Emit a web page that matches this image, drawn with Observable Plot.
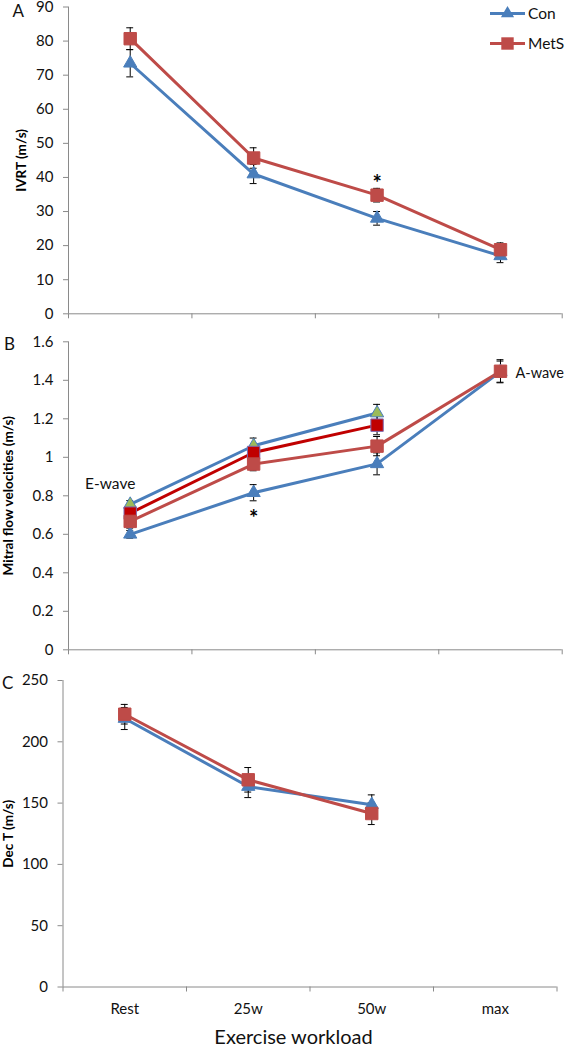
<!DOCTYPE html>
<html><head><meta charset="utf-8">
<script src="https://cdn.jsdelivr.net/npm/d3@7"></script>
<script src="https://cdn.jsdelivr.net/npm/@observablehq/plot@0.6"></script>
<style>
body{margin:0;background:#fff;font-family:Lato,"Open Sans",sans-serif;}
#wrap{position:relative;width:566px;height:1050px;overflow:hidden;background:#fff;}
.panel{position:absolute;left:0;}
.overlay{position:absolute;left:0;top:0;pointer-events:none;}
</style></head><body><div id="wrap"></div>
<script>
// ---- shared ----
const categories = ["Rest", "25w", "50w", "max"];
const seriesNames = ["Con", "MetS"];

// ---- Panel A: IVRT ----
const ivrtCon = [73.5, 41, 28, 17];
const ivrtConErr = [4, 2.8, 2, 2];
const ivrtMetS = [80.7, 45.7, 34.8, 18.8];
const ivrtMetSErr = [3.2, 3, 2, 2];
const ivrtTicks = [0, 10, 20, 30, 40, 50, 60, 70, 80, 90];
const ivrtStars = [{cat: "50w", value: 38}];

// ---- Panel B: Mitral flow velocities ----
const eWaveCon = [0.755, 1.06, 1.23];
const eWaveConErr = [0.02, 0.04, 0.045];
const eWaveMetS = [0.71, 1.025, 1.167];
const eWaveMetSErr = [0.03, 0.03, 0.05];
const aWaveMetS = [0.667, 0.965, 1.058, 1.447];
const aWaveMetSErr = [0.035, 0.035, 0.05, 0.06];
const aWaveCon = [0.60, 0.816, 0.966, 1.445];
const aWaveConErr = [0.02, 0.042, 0.057, 0.055];
const mitralTicks = [0, 0.2, 0.4, 0.6, 0.8, 1, 1.2, 1.4, 1.6];
const mitralStars = [{cat: "25w", value: 0.68}];
const mitralNotes = [
  {cat: "Rest", value: 0.833, label: "E-wave", side: "left"},
  {cat: "max", value: 1.414, label: "A-wave", side: "right"}
];

// ---- Panel C: Dec T ----
const decTCon = [219, 163.5, 148.7];
const decTConErr = [9, 9, 8];
const decTMetS = [222.5, 169, 141.5];
const decTMetSErr = [8, 10, 9];
const decTTicks = [0, 50, 100, 150, 200, 250];

const blue = "#4A7EBB", red = "#BE4B48", darkRed = "#C00000";

function rows(vals, errs) {
  return vals.map((v, i) => ({cat: categories[i], value: v, err: errs[i]}));
}
const xi = d => categories.indexOf(d.cat) + 0.5;

function seriesMarks(s) {
  const d = s.rows;
  return [
    Plot.line(d, {x: xi, y: "value", stroke: s.color, strokeWidth: 3}),
    Plot.ruleX(d, {x: xi, y1: r => r.value - r.err, y2: r => r.value + r.err, stroke: "#000", strokeWidth: 1}),
    Plot.ruleY(d, {x1: r => xi(r) - 0.028, x2: r => xi(r) + 0.028, y: r => r.value + r.err, stroke: "#000", strokeWidth: 1}),
    Plot.ruleY(d, {x1: r => xi(r) - 0.028, x2: r => xi(r) + 0.028, y: r => r.value - r.err, stroke: "#000", strokeWidth: 1})
  ];
}
function seriesDots(s) {
  return Plot.dot(s.rows, {x: xi, y: "value", symbol: s.symbol, r: s.symbol === "square" ? 7 : 4.9,
    fill: s.fill || s.color, stroke: s.stroke || s.color, strokeWidth: 1});
}

function panel(cfg) {
  const marks = [
    Plot.ruleX([0], {stroke: "#8a8a8a", strokeWidth: 1}),
    Plot.ruleY([0], {stroke: "#8a8a8a", strokeWidth: 1}),
    Plot.axisY({ticks: cfg.yTicks, tickSize: 5, tickPadding: 10, stroke: "#8a8a8a", fill: "#111",
      fontSize: 15, label: null, tickFormat: d3.format("~g")}),
    Plot.axisX({ticks: [0, 1, 2, 3, 4], tickSize: 5, tickFormat: () => "", stroke: "#8a8a8a", label: null}),
    ...cfg.series.flatMap(seriesMarks),
    ...cfg.series.map(seriesDots),
    Plot.text([cfg.title], {frameAnchor: "left", textAnchor: "middle", rotate: -90, dx: cfg.titleX - cfg.marginLeft,
      fontWeight: "bold", fontSize: 13.5, fill: "#000"}),
    ...(cfg.extra || [])
  ];
  if (cfg.xLabels) {
    marks.push(Plot.axisX({ticks: categories.map((c, i) => i + 0.5), tickSize: 0, tickPadding: 16,
      tickFormat: v => categories[Math.floor(v)], fontSize: 15, fill: "#111", label: null}));
  }
  const p = Plot.plot({
    width: 566, height: cfg.height,
    marginTop: cfg.marginTop, marginBottom: cfg.marginBottom,
    marginLeft: cfg.marginLeft, marginRight: cfg.marginRight,
    x: {domain: [0, 4]},
    y: {domain: cfg.yDomain},
    style: {fontFamily: "Lato, 'Open Sans', sans-serif", fontSize: "15px", background: "transparent", color: "#111", overflow: "visible"},
    marks
  });
  p.classList.add("panel");
  p.style.top = cfg.top + "px";
  return p;
}

const wrap = document.getElementById("wrap");

const starMarks = stars => Plot.text(stars, {x: xi, y: "value", text: () => "*", fontSize: 22, fontWeight: "bold", fill: "#000"});

wrap.appendChild(panel({
  top: 0, height: 330, marginTop: 6.5, marginBottom: 16.7, marginLeft: 68, marginRight: 4.3,
  yDomain: [0, 90], yTicks: ivrtTicks, title: "IVRT (m/s)", titleX: 21.5,
  series: [
    {rows: rows(ivrtCon, ivrtConErr), color: blue, symbol: "triangle"},
    {rows: rows(ivrtMetS, ivrtMetSErr), color: red, symbol: "square"}
  ],
  extra: [starMarks(ivrtStars)]
}));

wrap.appendChild(panel({
  top: 330, height: 330, marginTop: 11.3, marginBottom: 10.7, marginLeft: 68, marginRight: 4.3,
  yDomain: [0, 1.6], yTicks: mitralTicks, title: "Mitral flow velocities (m/s)", titleX: 8.5,
  series: [
    {rows: rows(aWaveCon, aWaveConErr), color: blue, symbol: "triangle"},
    {rows: rows(eWaveCon, eWaveConErr), color: blue, symbol: "triangle", fill: "#9BBB59", stroke: blue},
    {rows: rows(eWaveMetS, eWaveMetSErr), color: darkRed, symbol: "square", stroke: "#7F6AB0"},
    {rows: rows(aWaveMetS, aWaveMetSErr), color: red, symbol: "square"}
  ],
  extra: [
    starMarks(mitralStars),
    Plot.text(mitralNotes.filter(n => n.side === "left"), {x: xi, y: "value", text: "label", dx: -20, lineAnchor: "bottom", fontSize: 15.5, fill: "#111"}),
    Plot.text(mitralNotes.filter(n => n.side === "right"), {x: xi, y: "value", text: "label", dx: 15, textAnchor: "start", lineAnchor: "bottom", fontSize: 14.5, fill: "#111"})
  ]
}));

wrap.appendChild(panel({
  top: 660, height: 390, marginTop: 20, marginBottom: 63.5, marginLeft: 62.5, marginRight: 9.5,
  yDomain: [0, 250], yTicks: decTTicks, title: "Dec T (m/s)", titleX: 8.5,
  series: [
    {rows: rows(decTCon, decTConErr), color: blue, symbol: "triangle"},
    {rows: rows(decTMetS, decTMetSErr), color: red, symbol: "square"}
  ],
  xLabels: true,
  extra: [
    Plot.text(["Exercise workload"], {frameAnchor: "bottom", dx: -16.5, dy: 57, lineAnchor: "bottom", fontSize: 20, fill: "#111"})
  ]
}));

// overlay: panel letters and legend
const ov = d3.select(wrap).append("svg").attr("class", "overlay").attr("width", 566).attr("height", 1050)
  .style("font-family", "Lato, 'Open Sans', sans-serif");
const letters = [{t: "A", x: 12.5, y: 17}, {t: "B", x: 4, y: 349.5}, {t: "C", x: 2, y: 688.5}];
ov.selectAll("text.letter").data(letters).join("text").attr("class", "letter")
  .attr("x", d => d.x).attr("y", d => d.y).attr("font-size", 17).attr("fill", "#111").text(d => d.t);

const legend = [
  {label: seriesNames[0], color: blue, symbol: d3.symbolTriangle, size: Math.PI * 4.9 * 4.9},
  {label: seriesNames[1], color: red, symbol: d3.symbolSquare, size: Math.PI * 7 * 7}
];
const lg = ov.append("g").attr("transform", "translate(490,13.5)");
legend.forEach((l, i) => {
  const g = lg.append("g").attr("transform", `translate(0,${i * 30})`);
  g.append("line").attr("x1", 0).attr("x2", 35).attr("y1", 0).attr("y2", 0).attr("stroke", l.color).attr("stroke-width", 3);
  g.append("path").attr("d", d3.symbol(l.symbol, l.size)()).attr("transform", "translate(17.5,0)").attr("fill", l.color);
  g.append("text").attr("x", 38).attr("y", 0).attr("dy", "0.35em").attr("font-size", 15.5).attr("fill", "#111").text(l.label);
});
</script></body></html>
